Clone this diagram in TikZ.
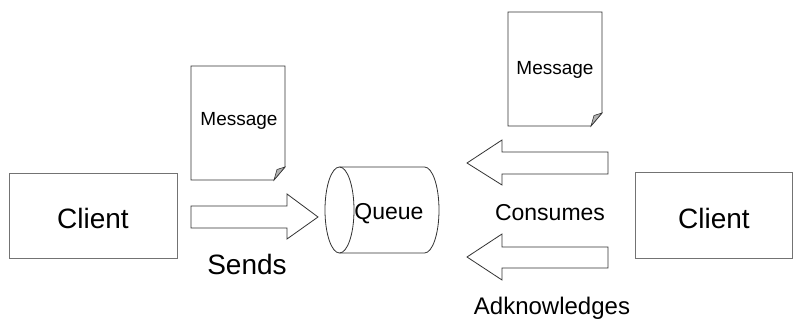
\documentclass[tikz,border=0pt]{standalone}
\usepackage{fontspec}
\setmainfont{Liberation Sans}
\begin{document}
\begin{tikzpicture}[x=1pt,y=-1pt,
  boxline/.style={draw=black!55,line width=1pt},
  shapeline/.style={draw=black!80,line width=0.8pt},
  fold/.style={draw=black!80,fill=black!30,line width=0.6pt},
  lbl/.style={inner sep=0pt,anchor=base}]
\useasboundingbox (0,0) rectangle (793,320);
\fill[white] (0,0) rectangle (793,320);
% clients
\draw[boxline] (9,174) rectangle (177,259);
\node[lbl,font=\fontsize{28}{30}\selectfont] (c1) at (93,229) {Client};
\draw[boxline] (635,173) rectangle (792.5,259);
\node[lbl,font=\fontsize{28}{30}\selectfont] (c2) at (714,229) {Client};
% left message
\draw[shapeline] (191,66) -- (285,66) -- (285,167) -- (274,180) -- (191,180) -- cycle;
\draw[fold] (274,180) -- (285,167) -- (277,169.5) -- cycle;
\node[lbl,font=\fontsize{19}{21}\selectfont] (m1) at (239,126) {Message};
% right message
\draw[shapeline] (508,12) -- (602,12) -- (602,113) -- (591,126) -- (508,126) -- cycle;
\draw[fold] (591,126) -- (602,113) -- (594,115.5) -- cycle;
\node[lbl,font=\fontsize{19}{21}\selectfont] (m2) at (555,75) {Message};
% sends arrow
\draw[shapeline] (191,206) -- (287,206) -- (287,194) -- (318,217) -- (287,239) -- (287,228) -- (191,228) -- cycle;
\node[lbl,font=\fontsize{28}{30}\selectfont] (s) at (247,275) {Sends};
% queue
\draw[shapeline] (339.5,167) -- (424.5,167) arc[start angle=90,end angle=-90,x radius=14.5,y radius=-43] -- (339.5,253);
\draw[shapeline] (339.5,210) ellipse[x radius=14.5,y radius=43];
\node[lbl,font=\fontsize{23}{25}\selectfont] (q) at (389,220) {Queue};
% consumes arrow
\draw[shapeline] (608,152) -- (502,152) -- (502,140) -- (467,163) -- (502,185) -- (502,174) -- (608,174) -- cycle;
\node[lbl,font=\fontsize{23}{25}\selectfont] (cs) at (550,221) {Consumes};
% acknowledges arrow
\draw[shapeline] (608,247) -- (502,247) -- (502,234) -- (467,257) -- (502,280) -- (502,268) -- (608,268) -- cycle;
\node[lbl,font=\fontsize{24}{26}\selectfont] (ak) at (552,315) {Adknowledges};
\end{tikzpicture}
\end{document}
